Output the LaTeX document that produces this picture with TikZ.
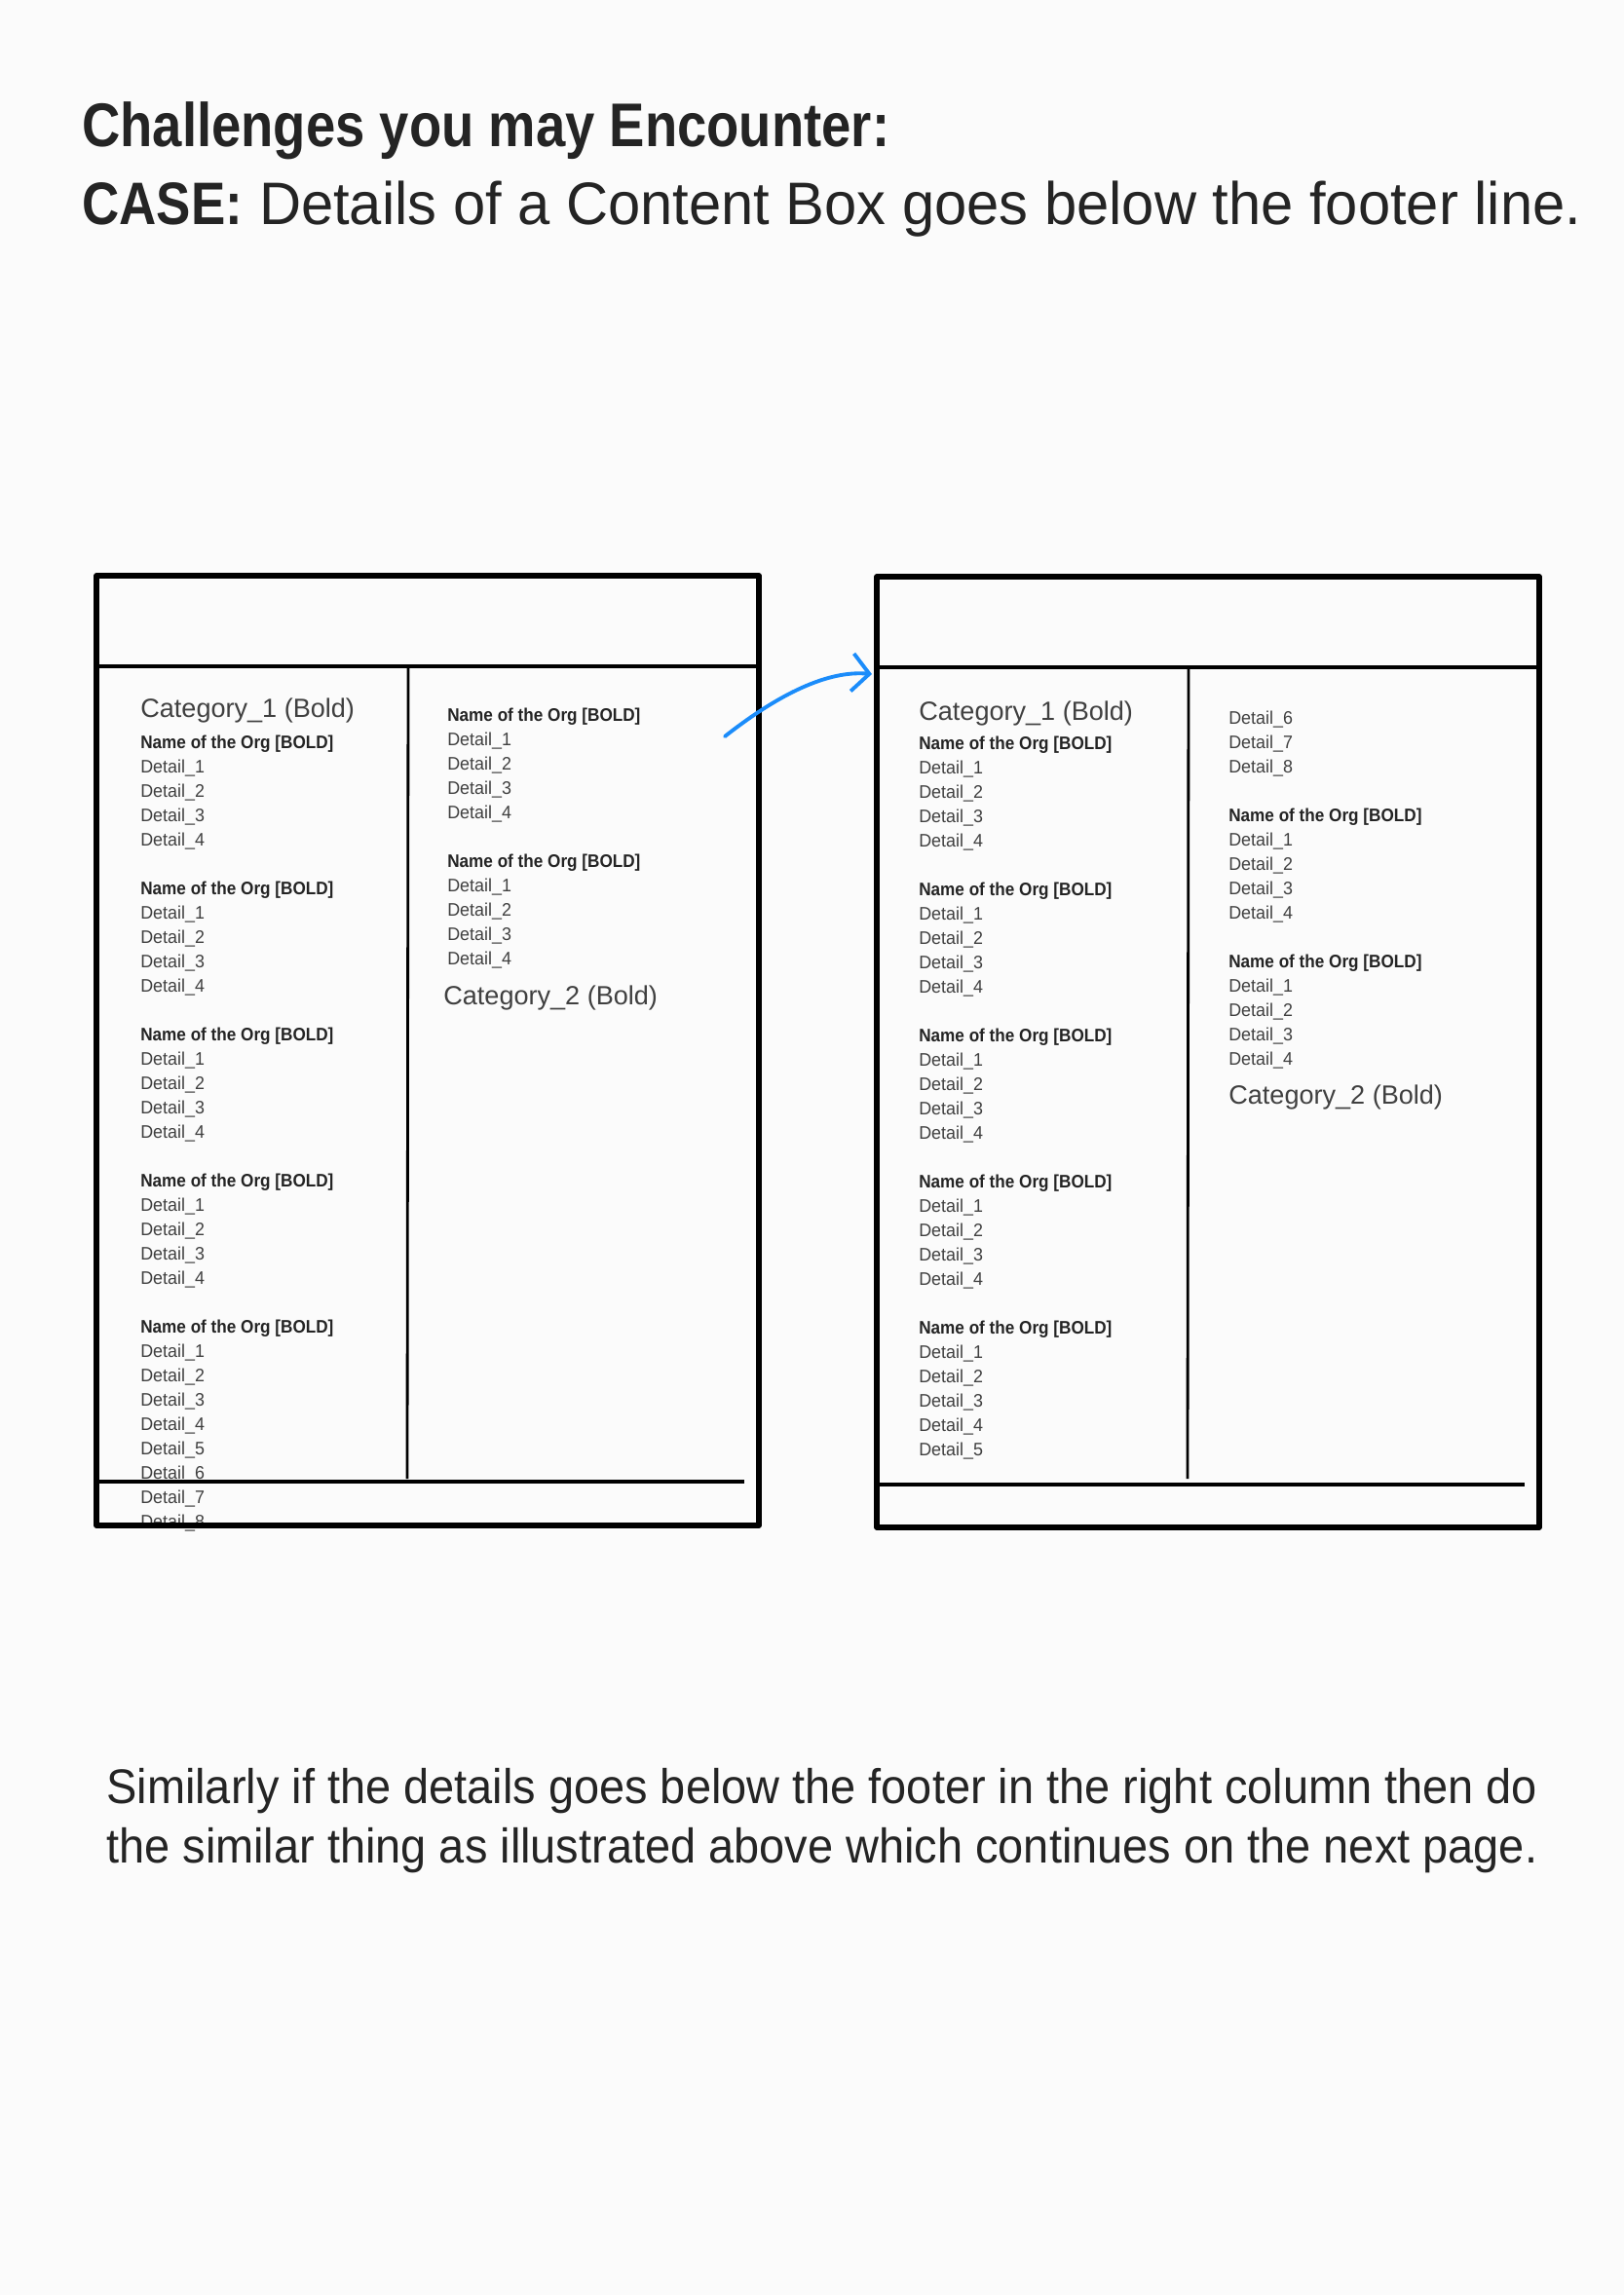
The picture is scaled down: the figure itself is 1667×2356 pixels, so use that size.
\documentclass[tikz,border=0pt]{standalone}
\usepackage{fontspec}
\setmainfont{Liberation Sans}
\newfontfamily\titlefont{Liberation Sans}[FakeStretch=0.86]
\newfontfamily\casefont{Liberation Sans}[FakeStretch=0.97]
\newfontfamily\notefont{Liberation Sans}[FakeStretch=0.94]
\newfontfamily\orgfont{Liberation Sans}[FakeStretch=0.92]
\newfontfamily\detailfont{Liberation Sans}[FakeStretch=0.96]
\usetikzlibrary{arrows.meta}
\definecolor{paper}{HTML}{FBFBFB}
\definecolor{ink}{HTML}{242424}
\definecolor{softink}{HTML}{404040}
\definecolor{penblue}{HTML}{1B8CFA}
\tikzset{every picture/.style={line width=0.75pt}}
\tikzset{
  pageframe/.style={line width=1.45pt},
  rule/.style={line width=1.2pt},
  divider/.style={line width=0.8pt},
  txt/.style={anchor=base west, inner sep=0pt, text=ink},
  category/.style={txt, text=softink, font=\fontsize{7.7}{9}\selectfont},
  orgname/.style={txt, font=\orgfont\fontsize{5.3}{6.5}\selectfont\bfseries},
  detail/.style={txt, text=softink, font=\detailfont\fontsize{5.3}{6.5}\selectfont},
  pen/.style={penblue, line width=1.1pt, line cap=round, -{Straight Barb[length=5pt,width=11pt]}}
}

\begin{document}
\begin{tikzpicture}[x=0.01cm, y=-0.01cm, line join=round]
  \fill[paper] (0,0) rectangle (1667,2356);
  \useasboundingbox (0,0) rectangle (1667,2356);

  % headings
  \node[txt, font=\titlefont\fontsize{18}{22}\selectfont\bfseries] (title) at (83,150) {Challenges you may Encounter:};
  \node[txt, font=\fontsize{17.5}{21}\selectfont] (case) at (83,230) {{\titlefont\bfseries CASE:} {\casefont Details of a Content Box goes below the footer line.}};

  % first page: left column
  \node[category] (A-cat) at (143,736) {Category\_1 (Bold)};
  \foreach \k/\n in {0/4,1/4,2/4,3/4,4/8}{
    \node[orgname] (A-org\k) at (143,{768+150*\k}) {Name of the Org [BOLD]};
    \foreach \j in {1,...,\n}
      \node[detail] (A-org\k-d\j) at (143,{768+150*\k+25*\j}) {Detail\_\j};
  }
  % first page: right column
  \foreach \k in {0,1}{
    \node[orgname] (B-org\k) at (458,{740+150*\k}) {Name of the Org [BOLD]};
    \foreach \j in {1,...,4}
      \node[detail] (B-org\k-d\j) at (458,{740+150*\k+25*\j}) {Detail\_\j};
  }
  \node[category] (B-cat) at (454,1031) {Category\_2 (Bold)};

  % second page: left column
  \node[category] (C-cat) at (942,739) {Category\_1 (Bold)};
  \foreach \k/\n in {0/4,1/4,2/4,3/4,4/5}{
    \node[orgname] (C-org\k) at (942,{769+150*\k}) {Name of the Org [BOLD]};
    \foreach \j in {1,...,\n}
      \node[detail] (C-org\k-d\j) at (942,{769+150*\k+25*\j}) {Detail\_\j};
  }
  % second page: right column
  \foreach \j/\y in {6/743,7/768,8/793}
    \node[detail] (D-d\j) at (1260,\y) {Detail\_\j};
  \foreach \k in {0,1}{
    \node[orgname] (D-org\k) at (1260,{843+150*\k}) {Name of the Org [BOLD]};
    \foreach \j in {1,...,4}
      \node[detail] (D-org\k-d\j) at (1260,{843+150*\k+25*\j}) {Detail\_\j};
  }
  \node[category] (D-cat) at (1260,1133) {Category\_2 (Bold)};

  % page frames
  \draw[pageframe] (99,591) rectangle (779,1566);
  \draw[rule] (99,684) -- (779,684);
  \draw[divider] (419,684) -- (418,1518);
  \draw[rule] (99,1521) -- (764,1521);

  \draw[pageframe] (900,592) rectangle (1580,1568);
  \draw[rule] (900,685) -- (1580,685);
  \draw[divider] (1220,685) -- (1219,1518);
  \draw[rule] (900,1524) -- (1565,1524);

  % overflow arrow
  \path (744,756) coordinate (from) (895,692) coordinate (to);
  \draw[pen] (from) .. controls (800,712) and (850,688) .. (to);

  % note
  \node[txt, font=\notefont\fontsize{14.2}{17.3}\selectfont, align=left] (note) at (108,1912)
    {Similarly if the details goes below the footer in the right column then do\\
     the similar thing as illustrated above which continues on the next page.};
\end{tikzpicture}
\end{document}
